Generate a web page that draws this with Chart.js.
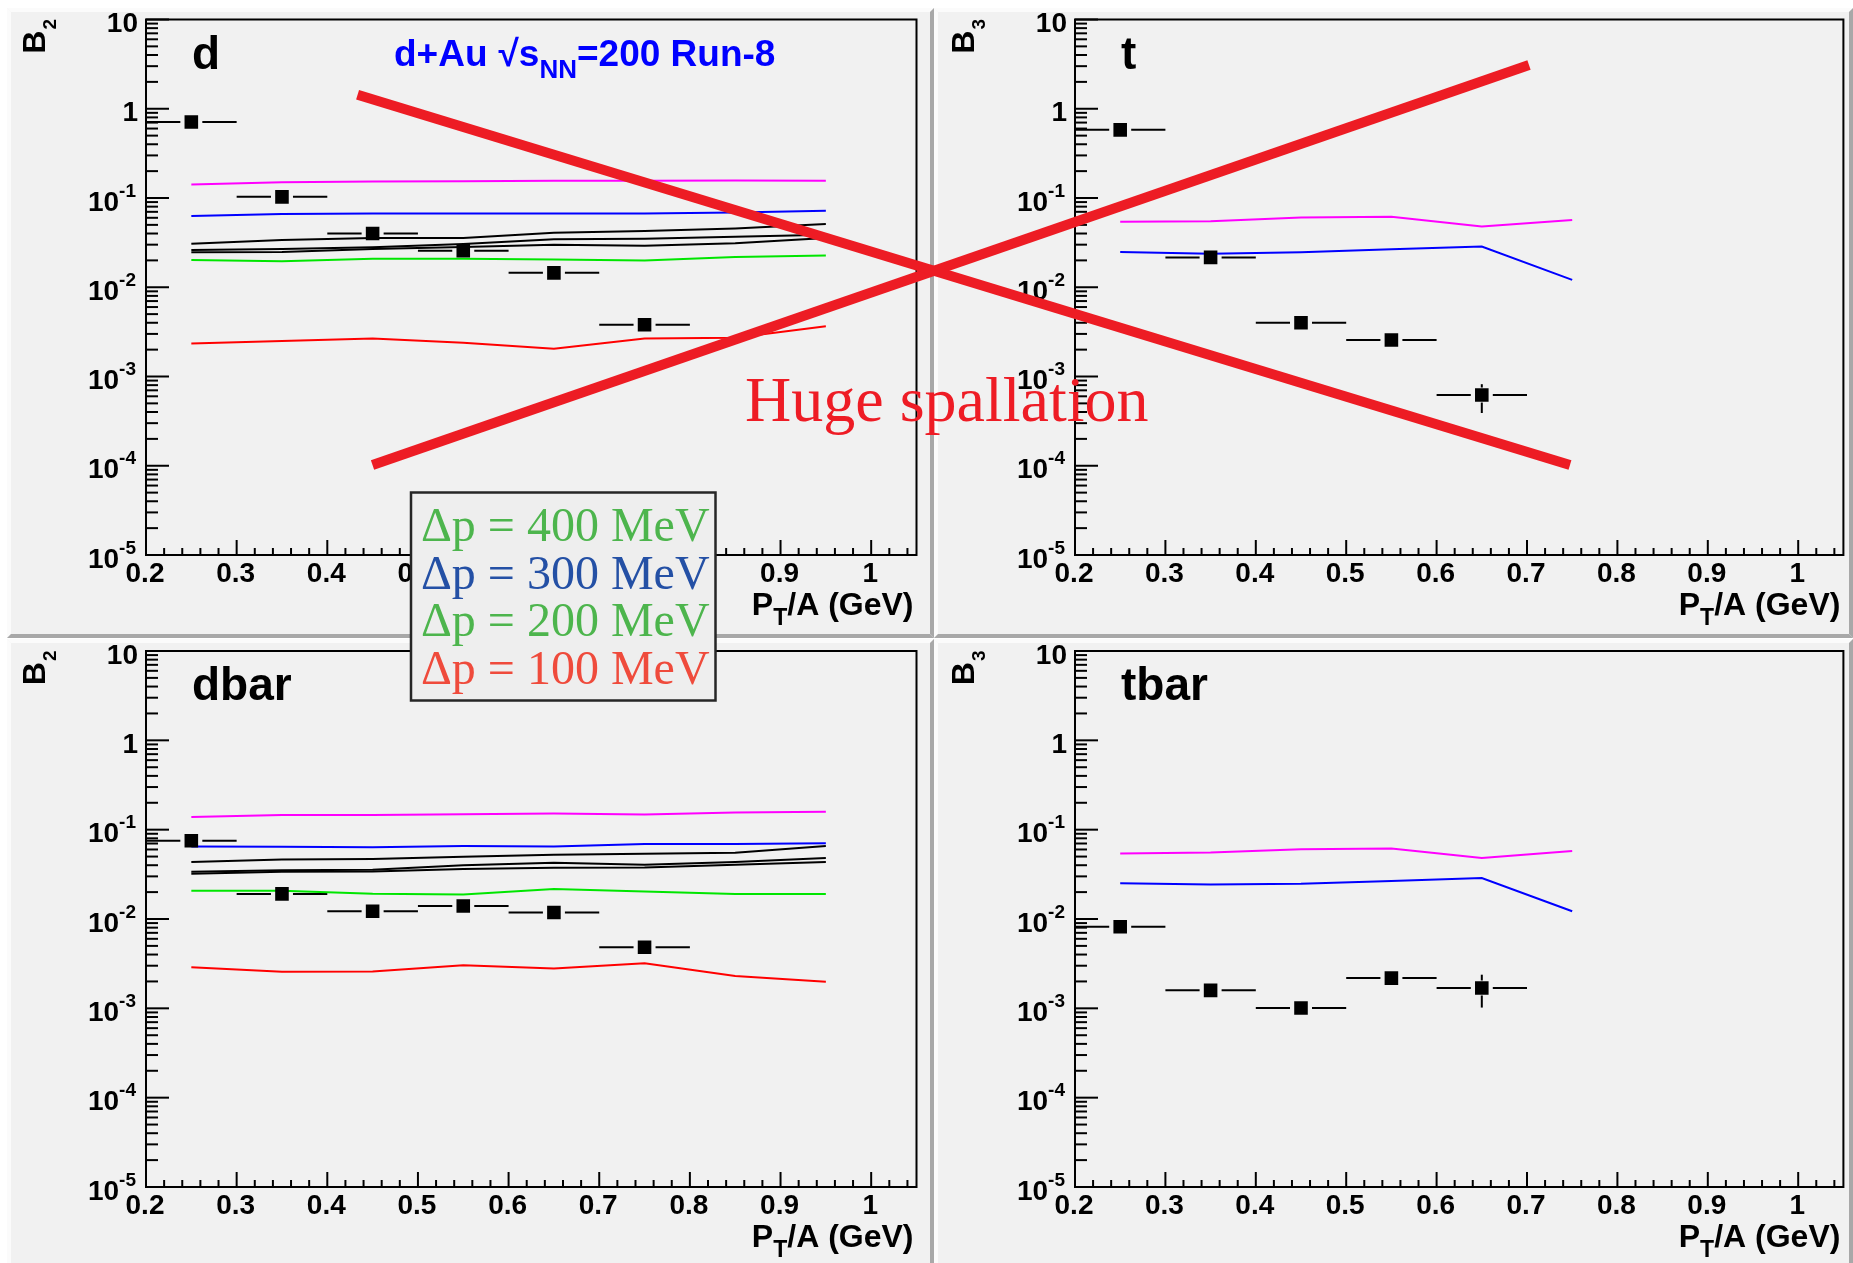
<!DOCTYPE html>
<html>
<head>
<meta charset="utf-8">
<title>B2 / B3 coalescence parameters, d+Au 200 GeV</title>
<script src="https://cdn.jsdelivr.net/npm/chart.js@4.4.1/dist/chart.umd.min.js"></script>
<style>
  html, body { margin: 0; padding: 0; background: #ffffff; }
  #wrap { position: relative; width: 1853px; height: 1263px; overflow: hidden; background: #ffffff; }
  #wrap canvas { position: absolute; left: 0; top: 0; }
</style>
</head>
<body>
<div id="wrap">
  <canvas id="padTL" width="1853" height="1263"></canvas>
  <canvas id="padTR" width="1853" height="1263"></canvas>
  <canvas id="padBL" width="1853" height="1263"></canvas>
  <canvas id="padBR" width="1853" height="1263"></canvas>
  <canvas id="overlay" width="1853" height="1263"></canvas>
</div>
<script>
// ---------------- axes ----------------
const xRange = [0.2, 1.05];
const yRange = [1e-5, 10];
const xTickValues = [0.2, 0.3, 0.4, 0.5, 0.6, 0.7, 0.8, 0.9, 1.0];
const xTickLabels = ['0.2', '0.3', '0.4', '0.5', '0.6', '0.7', '0.8', '0.9', '1'];
const yDecades = [-5, -4, -3, -2, -1, 0, 1];

// ---------------- bins (P_T/A, GeV) ----------------
const binHalfWidth = 0.05;
const xCurve8 = [0.25, 0.35, 0.45, 0.55, 0.65, 0.75, 0.85, 0.95];
const xCurve6 = [0.25, 0.35, 0.45, 0.55, 0.65, 0.75];
const xData6 = [0.25, 0.35, 0.45, 0.55, 0.65, 0.75];
const xData5 = [0.25, 0.35, 0.45, 0.55, 0.65];

// ---------------- deuterons: B2 ----------------
const dB2 = [0.71, 0.103, 0.040, 0.0256, 0.0145, 0.0038];
const dMagenta = [0.142, 0.150, 0.153, 0.154, 0.156, 0.156, 0.157, 0.156];
const dBlue    = [0.063, 0.066, 0.067, 0.067, 0.067, 0.067, 0.069, 0.072];
const dBlackA  = [0.0308, 0.0339, 0.0357, 0.0357, 0.0409, 0.0427, 0.0455, 0.051];
const dBlackB  = [0.0261, 0.0269, 0.0280, 0.0305, 0.0346, 0.0349, 0.0368, 0.0388];
const dBlackC  = [0.0247, 0.0249, 0.0269, 0.0283, 0.0299, 0.0292, 0.0311, 0.0357];
const dGreen   = [0.0202, 0.0196, 0.0209, 0.0209, 0.0205, 0.0200, 0.0218, 0.0227];
const dRed     = [0.00234, 0.00250, 0.00266, 0.00239, 0.00205, 0.00266, 0.00272, 0.00365];

// ---------------- tritons: B3 ----------------
const tB3 = [0.58, 0.0216, 0.0040, 0.00256, 0.00062];
const tB3Lo = [null, null, null, null, 0.00039];
const tB3Hi = [null, null, null, null, 0.00082];
const tMagenta = [0.0543, 0.0549, 0.0604, 0.0617, 0.0479, 0.0566];
const tBlue    = [0.0249, 0.0237, 0.0247, 0.0266, 0.0286, 0.0121];

// ---------------- anti-deuterons: B2 ----------------
const dbarB2 = [0.0752, 0.0191, 0.0122, 0.0140, 0.0118, 0.00482];
const dbarMagenta = [0.139, 0.146, 0.146, 0.149, 0.152, 0.148, 0.156, 0.159];
const dbarBlue    = [0.0649, 0.0642, 0.0635, 0.0656, 0.0649, 0.069, 0.069, 0.0706];
const dbarBlackA  = [0.0434, 0.0463, 0.0468, 0.0498, 0.0525, 0.0536, 0.0553, 0.0656];
const dbarBlackB  = [0.0337, 0.0352, 0.0356, 0.0399, 0.0425, 0.0404, 0.0434, 0.0482];
const dbarBlackC  = [0.0320, 0.0337, 0.0340, 0.0363, 0.0374, 0.0378, 0.0404, 0.0434];
const dbarGreen   = [0.0207, 0.0207, 0.0192, 0.0188, 0.0216, 0.0203, 0.0191, 0.0191];
const dbarRed     = [0.00288, 0.00256, 0.00259, 0.00303, 0.00279, 0.00320, 0.00230, 0.00199];

// ---------------- anti-tritons: B3 ----------------
const tbarB3 = [0.00818, 0.00159, 0.00101, 0.00218, 0.00169];
const tbarB3Lo = [null, null, null, null, 0.00102];
const tbarB3Hi = [null, null, null, null, 0.00238];
const tbarMagenta = [0.0542, 0.0555, 0.0603, 0.0616, 0.0482, 0.0577];
const tbarBlue    = [0.0251, 0.0243, 0.0248, 0.0267, 0.0288, 0.0122];

// ---------------- annotation: crossed-out band (in d-panel coordinates) ----------------
const crossDownX = [0.4334, 1.7709];
const crossDownY = [1.437, 1.02e-4];
const crossUpX   = [0.4499, 1.7257];
const crossUpY   = [1.02e-4, 3.09];

const legendLines = ['\u0394p = 400 MeV', '\u0394p = 300 MeV', '\u0394p = 200 MeV', '\u0394p = 100 MeV'];

// ---------------- page geometry ----------------
const W = 1853, H = 1263;
const SANS = '"Liberation Sans", Arial, Helvetica, sans-serif';
const SERIF = '"Liberation Serif", "Times New Roman", Times, serif';
const COL = { magenta: '#ff00ff', blue: '#0000ff', black: '#000000', green: '#00e600', red: '#ff0000' };

const boxes = {
  TL: { pad: { x0: 7, y0: 8, x1: 934, y1: 638 },   frame: { l: 146,  t: 19.5, r: 916.5,  b: 555 } },
  TR: { pad: { x0: 934, y0: 8, x1: 1853, y1: 638 }, frame: { l: 1075, t: 19.5, r: 1845.5, b: 555 } },
  BL: { pad: { x0: 7, y0: 639, x1: 934, y1: 1267 }, frame: { l: 146,  t: 651,  r: 916.5,  b: 1187 } },
  BR: { pad: { x0: 934, y0: 639, x1: 1853, y1: 1267 }, frame: { l: 1075, t: 651, r: 1845.5, b: 1187 } }
};

function pts(xs, ys) { return xs.map((x, i) => ({ x: x, y: ys[i] })); }

function curve(xs, ys, color) {
  return { data: pts(xs, ys), borderColor: color, borderWidth: 2, pointRadius: 0,
           fill: false, tension: 0, order: 2 };
}
function markers(xs, ys) {
  return { data: pts(xs, ys), showLine: false, pointStyle: 'rect', pointRadius: 9.6,
           pointBackgroundColor: '#000', pointBorderWidth: 0, borderColor: '#000', order: 0 };
}

// draws a run of text pieces (for sub/superscripts); returns total width
function drawParts(ctx, parts, x, y, align) {
  const widths = parts.map(p => {
    ctx.font = (p.weight || 'bold') + ' ' + p.size + 'px ' + (p.family || SANS);
    return ctx.measureText(p.text).width + (p.gap || 0);
  });
  const total = widths.reduce((a, b) => a + b, 0);
  let cx = align === 'right' ? x - total : (align === 'center' ? x - total / 2 : x);
  ctx.textAlign = 'left';
  ctx.textBaseline = 'alphabetic';
  parts.forEach((p, i) => {
    ctx.font = (p.weight || 'bold') + ' ' + p.size + 'px ' + (p.family || SANS);
    ctx.fillText(p.text, cx + (p.gap || 0), y + (p.dy || 0));
    cx += widths[i];
  });
  return total;
}

function seg(ctx, x0, y0, x1, y1) { ctx.beginPath(); ctx.moveTo(x0, y0); ctx.lineTo(x1, y1); ctx.stroke(); }

const padDeco = {
  id: 'padDeco',
  beforeDraw(chart, args, o) {
    const ctx = chart.ctx, p = o.pad, b = 4;
    ctx.save();
    ctx.fillStyle = '#f1f1f1';
    ctx.fillRect(p.x0, p.y0, p.x1 - p.x0, p.y1 - p.y0);
    const poly = (pp, c) => { ctx.fillStyle = c; ctx.beginPath(); ctx.moveTo(pp[0][0], pp[0][1]);
      for (let i = 1; i < pp.length; i++) ctx.lineTo(pp[i][0], pp[i][1]); ctx.closePath(); ctx.fill(); };
    poly([[p.x0, p.y0], [p.x1, p.y0], [p.x1 - b, p.y0 + b], [p.x0 + b, p.y0 + b]], '#fbfbfb');
    poly([[p.x0, p.y0], [p.x0 + b, p.y0 + b], [p.x0 + b, p.y1 - b], [p.x0, p.y1]], '#fbfbfb');
    poly([[p.x0, p.y1], [p.x0 + b, p.y1 - b], [p.x1 - b, p.y1 - b], [p.x1, p.y1]], '#a8a8a8');
    poly([[p.x1, p.y0], [p.x1, p.y1], [p.x1 - b, p.y1 - b], [p.x1 - b, p.y0 + b]], '#a8a8a8');
    ctx.restore();
  },
  beforeDatasetsDraw(chart, args, o) {
    const ctx = chart.ctx, a = chart.chartArea, xs = chart.scales.x, ys = chart.scales.y;
    ctx.save();
    ctx.strokeStyle = '#000'; ctx.fillStyle = '#000'; ctx.lineWidth = 2;
    ctx.strokeRect(a.left, a.top, a.right - a.left, a.bottom - a.top);

    // x ticks: majors every 0.1, minors every 0.02
    for (let k = 0; ; k++) {
      const v = xRange[0] + k * 0.02;
      if (v > xRange[1] + 1e-9) break;
      const px = xs.getPixelForValue(v);
      seg(ctx, px, a.bottom, px, a.bottom - (k % 5 === 0 ? 15 : 7));
    }
    xTickValues.forEach((v, i) => {
      drawParts(ctx, [{ text: xTickLabels[i], size: 28 }], xs.getPixelForValue(v) - 1, a.bottom + 27, 'center');
    });

    // y ticks: decades long, 2..9 short
    yDecades.forEach(e => {
      const base = Math.pow(10, e);
      const py = ys.getPixelForValue(base);
      seg(ctx, a.left, py, a.left + 23, py);
      if (e < yDecades[yDecades.length - 1]) {
        for (let m = 2; m <= 9; m++) {
          const q = ys.getPixelForValue(m * base);
          seg(ctx, a.left, q, a.left + 12, q);
        }
      }
      if (e === 0 || e === 1) {
        drawParts(ctx, [{ text: e === 0 ? '1' : '10', size: 28 }], a.left - 8, py + 12.5, 'right');
      } else {
        drawParts(ctx, [{ text: '10', size: 28 }, { text: String(e), size: 19, dy: -14 }], a.left - 10, py + 12.5, 'right');
      }
    });

    // x-axis title
    drawParts(ctx, [{ text: 'P', size: 32 }, { text: 'T', size: 23, dy: 10 }, { text: '/A (GeV)', size: 32 }],
              a.right - 3, a.bottom + 60, 'right');

    // y-axis title (rotated, reading upwards)
    ctx.save();
    ctx.translate(a.left - 101, a.top - 0.5);
    ctx.rotate(-Math.PI / 2);
    drawParts(ctx, [{ text: o.yTitle, size: 32 }, { text: o.ySub, size: 19, dy: 11, gap: 1 }], 0, 0, 'right');
    ctx.restore();

    // species tag
    drawParts(ctx, [{ text: o.tag, size: 46 }], a.left + 46, a.top + 49, 'left');

    // collision system title
    if (o.system) {
      ctx.fillStyle = '#0000ff';
      drawParts(ctx, [
        { text: 'd+Au', size: 37 },
        { text: '\u221A', size: 37, gap: 11 },
        { text: 's', size: 37 },
        { text: 'NN', size: 26, dy: 12 },
        { text: '=200 Run-8', size: 37 }
      ], 394, 66, 'left');
      ctx.fillStyle = '#000';
    }

    // horizontal (bin width) and vertical error bars, with a gap around the marker
    const e = o.errors;
    e.x.forEach((xv, i) => {
      const px = xs.getPixelForValue(xv), py = ys.getPixelForValue(e.y[i]);
      const l = xs.getPixelForValue(xv - binHalfWidth), r = xs.getPixelForValue(xv + binHalfWidth);
      seg(ctx, l, py, px - 11, py);
      seg(ctx, px + 11, py, r, py);
      if (e.lo && e.lo[i] != null) { const q = ys.getPixelForValue(e.lo[i]); if (q > py + 7.5) seg(ctx, px, py + 7.5, px, q); }
      if (e.hi && e.hi[i] != null) { const q = ys.getPixelForValue(e.hi[i]); if (q < py - 7.5) seg(ctx, px, q, px, py - 7.5); }
    });
    ctx.restore();
  }
};

function scalesCfg() {
  return {
    x: { type: 'linear', min: xRange[0], max: xRange[1], display: false },
    y: { type: 'logarithmic', min: yRange[0], max: yRange[1], display: false }
  };
}

function makePanel(canvasId, box, deco, datasets) {
  const f = box.frame;
  return new Chart(document.getElementById(canvasId), {
    type: 'line',
    data: { datasets: datasets },
    plugins: [padDeco],
    options: {
      responsive: false, animation: false, devicePixelRatio: 1, events: [],
      layout: { padding: { left: f.l, top: f.t, right: W - f.r, bottom: H - f.b } },
      scales: scalesCfg(),
      plugins: { legend: { display: false }, tooltip: { enabled: false },
                 padDeco: Object.assign({ pad: box.pad }, deco) }
    }
  });
}

makePanel('padTL', boxes.TL,
  { yTitle: 'B', ySub: '2', tag: 'd', system: true, errors: { x: xData6, y: dB2 } },
  [ markers(xData6, dB2),
    curve(xCurve8, dMagenta, COL.magenta), curve(xCurve8, dBlue, COL.blue),
    curve(xCurve8, dBlackA, COL.black), curve(xCurve8, dBlackB, COL.black), curve(xCurve8, dBlackC, COL.black),
    curve(xCurve8, dGreen, COL.green), curve(xCurve8, dRed, COL.red) ]);

makePanel('padTR', boxes.TR,
  { yTitle: 'B', ySub: '3', tag: 't', errors: { x: xData5, y: tB3, lo: tB3Lo, hi: tB3Hi } },
  [ markers(xData5, tB3),
    curve(xCurve6, tMagenta, COL.magenta), curve(xCurve6, tBlue, COL.blue) ]);

makePanel('padBL', boxes.BL,
  { yTitle: 'B', ySub: '2', tag: 'dbar', errors: { x: xData6, y: dbarB2 } },
  [ markers(xData6, dbarB2),
    curve(xCurve8, dbarMagenta, COL.magenta), curve(xCurve8, dbarBlue, COL.blue),
    curve(xCurve8, dbarBlackA, COL.black), curve(xCurve8, dbarBlackB, COL.black), curve(xCurve8, dbarBlackC, COL.black),
    curve(xCurve8, dbarGreen, COL.green), curve(xCurve8, dbarRed, COL.red) ]);

makePanel('padBR', boxes.BR,
  { yTitle: 'B', ySub: '3', tag: 'tbar', errors: { x: xData5, y: tbarB3, lo: tbarB3Lo, hi: tbarB3Hi } },
  [ markers(xData5, tbarB3),
    curve(xCurve6, tbarMagenta, COL.magenta), curve(xCurve6, tbarBlue, COL.blue) ]);

// ---------------- overlay: crossed-out band, note and momentum-window key ----------------
const overlayText = {
  id: 'overlayText',
  afterDatasetsDraw(chart) {
    const ctx = chart.ctx;
    ctx.save();
    ctx.fillStyle = '#ee1c25';
    ctx.font = '64px ' + SERIF;
    ctx.textAlign = 'left'; ctx.textBaseline = 'alphabetic';
    ctx.fillText('Huge spallation', 745, 421);

    // key box
    const bx = 411, by = 492.5, bw = 304.5, bh = 208;
    ctx.fillStyle = '#eeeeee';
    ctx.fillRect(bx, by, bw, bh);
    ctx.strokeStyle = '#262626'; ctx.lineWidth = 2.5;
    ctx.strokeRect(bx, by, bw, bh);
    const keyColors = ['#4db54d', '#2450a5', '#4db54d', '#ef4b3c'];
    ctx.font = '48px ' + SERIF;
    legendLines.forEach((s, i) => {
      ctx.fillStyle = keyColors[i];
      ctx.fillText(s, 421, 541 + i * 47.7);
    });
    ctx.restore();
  }
};

const fTL = boxes.TL.frame;
new Chart(document.getElementById('overlay'), {
  type: 'line',
  data: { datasets: [
    { data: pts(crossDownX, crossDownY), borderColor: '#ed1c24', borderWidth: 10, pointRadius: 0,
      borderCapStyle: 'butt', clip: false, tension: 0 },
    { data: pts(crossUpX, crossUpY), borderColor: '#ed1c24', borderWidth: 10, pointRadius: 0,
      borderCapStyle: 'butt', clip: false, tension: 0 }
  ] },
  plugins: [overlayText],
  options: {
    responsive: false, animation: false, devicePixelRatio: 1, events: [],
    layout: { padding: { left: fTL.l, top: fTL.t, right: W - fTL.r, bottom: H - fTL.b } },
    scales: scalesCfg(),
    plugins: { legend: { display: false }, tooltip: { enabled: false } }
  }
});
</script>
</body>
</html>
